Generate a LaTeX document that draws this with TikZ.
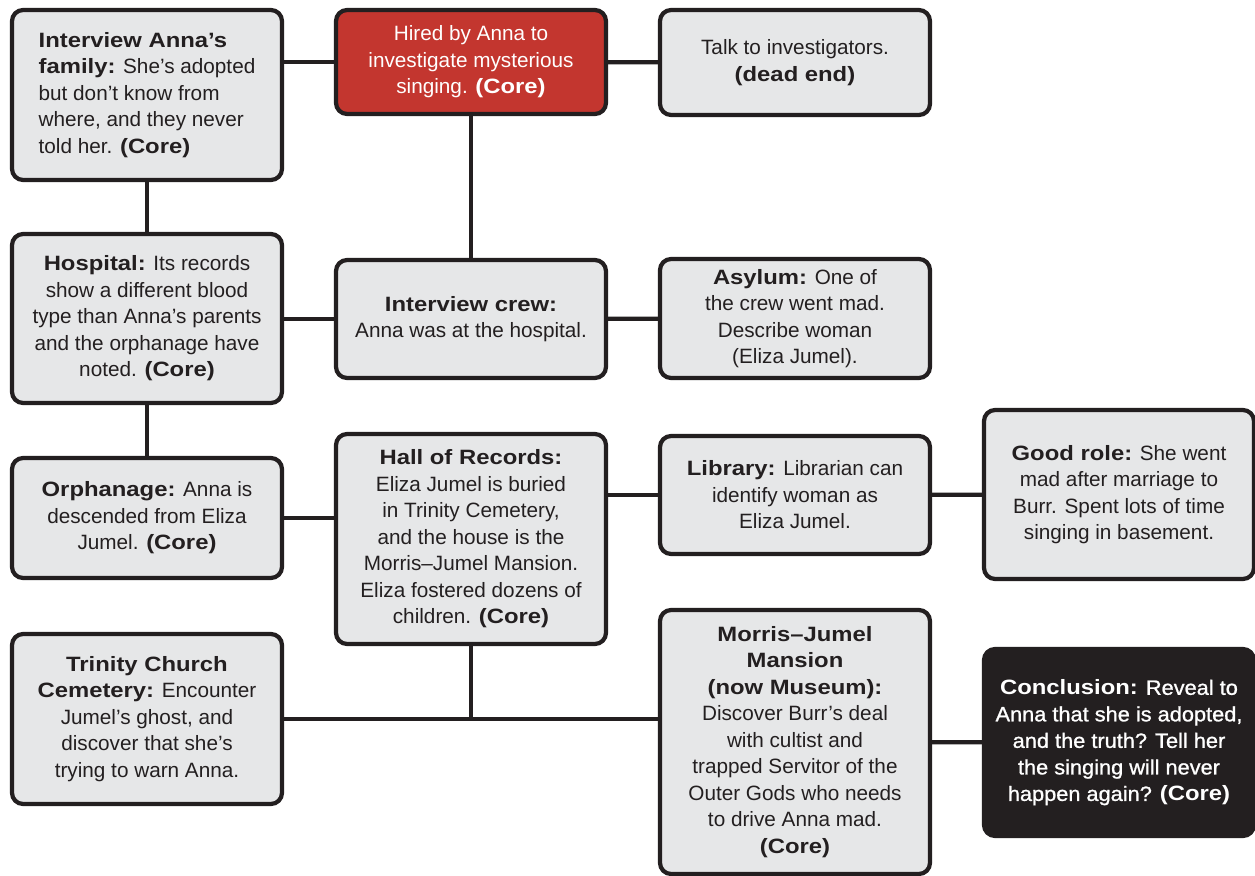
\documentclass[tikz,border=0pt]{standalone}
\usepackage{fontspec}
\setmainfont{Liberation Sans}
\newfontfamily\heavyfont{Liberation Sans}[FakeStretch=1.15]
\newfontfamily\medfont{Liberation Sans}[FakeStretch=1.05, FakeBold=1]
\newcommand{\hd}[1]{{\heavyfont\bfseries #1}}
\definecolor{ink}{HTML}{231F20}
\definecolor{cardgray}{HTML}{E6E7E8}
\definecolor{hiredred}{HTML}{C3362F}

\begin{document}
\begin{tikzpicture}[x=0.02cm, y=-0.02cm,
  every node/.style={font=\fontsize{11.8pt}{15.1pt}\selectfont, align=center, text=ink},
  card/.style={draw=ink, fill=cardgray, line width=2.4pt, rounded corners=0.22cm, minimum width=5.4cm, inner sep=0pt},
  redcard/.style={card, fill=hiredred, text=white},
  darkcard/.style={card, fill=ink, text=white},
  link/.style={draw=ink, line width=2.4pt}]
\useasboundingbox (0,0) rectangle (1255,876);
\node[card, minimum height=3.4cm, align=left] (family) at (147,95) {\hd{Interview Anna’s}\\ \hd{family:} She’s adopted\\ but don’t know from\\ where, and they never\\ told her. \hd{(Core)}};
\node[redcard, minimum height=2.08cm] (hired) at (471,62) {Hired by Anna to\\ investigate mysterious\\ singing. \hd{(Core)}};
\node[card, minimum height=2.1cm] (talk) at (795,62.5) {Talk to investigators.\\ \hd{(dead end)}};
\node[card, minimum height=3.38cm] (hospital) at (147,318.5) {\hd{Hospital:} Its records\\ show a different blood\\ type than Anna’s parents\\ and the orphanage have\\ noted. \hd{(Core)}};
\node[card, minimum height=2.36cm] (crew) at (471,319) {\hd{Interview crew:}\\ Anna was at the hospital.};
\node[card, minimum height=2.38cm] (asylum) at (795,318.5) {\hd{Asylum:} One of\\ the crew went mad.\\ Describe woman\\ (Eliza Jumel).};
\node[card, minimum height=2.4cm] (orphanage) at (147,518) {\hd{Orphanage:} Anna is\\ descended from Eliza\\ Jumel. \hd{(Core)}};
\node[card, minimum height=4.2cm] (records) at (471,539) {\hd{Hall of Records:}\\ Eliza Jumel is buried\\ in Trinity Cemetery,\\ and the house is the\\ Morris–Jumel Mansion.\\ Eliza fostered dozens of\\ children. \hd{(Core)}};
\node[card, minimum height=2.36cm] (library) at (795,495) {\hd{Library:} Librarian can\\ identify woman as\\ Eliza Jumel.};
\node[card, minimum height=3.38cm] (goodrole) at (1119,494.5) {\hd{Good role:} She went\\ mad after marriage to\\ Burr. Spent lots of time\\ singing in basement.};
\node[card, minimum height=3.4cm] (cemetery) at (147,719) {\hd{Trinity Church}\\ \hd{Cemetery:} Encounter\\ Jumel’s ghost, and\\ discover that she’s\\ trying to warn Anna.};
\node[card, minimum height=5.28cm] (mansion) at (795,742) {\hd{Morris–Jumel}\\ \hd{Mansion}\\ \hd{(now Museum):}\\ Discover Burr’s deal\\ with cultist and\\ trapped Servitor of the\\ Outer Gods who needs\\ to drive Anna mad.\\ \hd{(Core)}};
\node[darkcard, minimum height=3.74cm, font=\fontsize{11.8pt}{15.1pt}\selectfont\medfont] (conclusion) at (1119,742.5) {\hd{Conclusion:} Reveal to\\ Anna that she is adopted,\\ and the truth? Tell her\\ the singing will never\\ happen again? \hd{(Core)}};
\draw[link] (hired.west) -- (hired.west -| family.east);
\draw[link] (hired) -- (talk);
\draw[link] (hired) -- (crew);
\draw[link] (family) -- (hospital);
\draw[link] (crew.west) -- (crew.west -| hospital.east);
\draw[link] (crew) -- (asylum);
\draw[link] (hospital) -- (orphanage);
\draw[link] (orphanage.east) -- (orphanage.east -| records.west);
\draw[link] (library.west) -- (library.west -| records.east);
\draw[link] (library) -- (goodrole);
\coordinate (fork) at (records.south |- cemetery.east);
\draw[link] (records.south) -- (fork);
\draw[link] (cemetery.east) -- (cemetery.east -| mansion.west);
\draw[link] (mansion) -- (conclusion);
\end{tikzpicture}
\end{document}
